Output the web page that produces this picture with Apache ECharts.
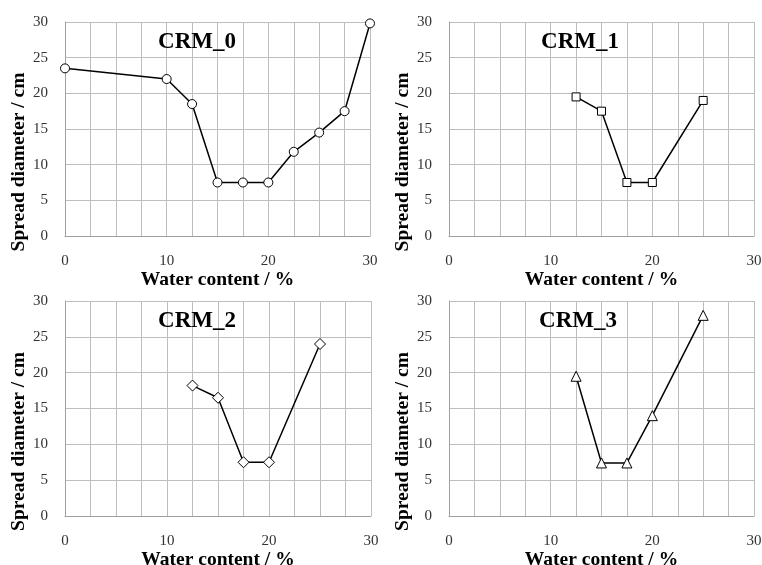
<!DOCTYPE html>
<html>
<head>
<meta charset="utf-8">
<script src="https://cdn.jsdelivr.net/npm/echarts@6/dist/echarts.min.js"></script>
<style>
html,body{margin:0;padding:0;background:#fff;}
#main{width:762px;height:565px;}
</style>
</head>
<body>
<div id="main"></div>
<script>
// Data
const panelNames = ['CRM_0', 'CRM_1', 'CRM_2', 'CRM_3'];
const xCRM0 = [0, 10, 12.5, 15, 17.5, 20, 22.5, 25, 27.5, 30];
const yCRM0 = [23.5, 22, 18.5, 7.5, 7.5, 7.5, 11.8, 14.5, 17.5, 29.8];
const xCRM1 = [12.5, 15, 17.5, 20, 25];
const yCRM1 = [19.5, 17.5, 7.5, 7.5, 19];
const xCRM2 = [12.5, 15, 17.5, 20, 25];
const yCRM2 = [18.2, 16.5, 7.5, 7.5, 24];
const xCRM3 = [12.5, 15, 17.5, 20, 25];
const yCRM3 = [19.5, 7.4, 7.4, 14, 28];
const xTickLabels = [0, 10, 20, 30];
const yTickLabels = [0, 5, 10, 15, 20, 25, 30];
const xTitle = 'Water content / %';
const yTitle = 'Spread diameter / cm';

const xs = [xCRM0, xCRM1, xCRM2, xCRM3];
const ys = [yCRM0, yCRM1, yCRM2, yCRM3];
const symbols = ['circle', 'rect', 'diamond', 'triangle'];
const symbolSizes = [9, 8, 11, 10];

const grids = [
  {left: 65, top: 22, width: 305, height: 214},
  {left: 449, top: 22, width: 305, height: 214},
  {left: 65, top: 301, width: 306, height: 215},
  {left: 449, top: 301, width: 305, height: 215}
];
const titlePos = [[197, 42], [580, 42], [197, 321], [578, 321]];

const FONT = '"Liberation Serif", "DejaVu Serif", serif';
const gridColor = '#bdbdbd';
const axisColor = '#a0a0a0';

const option = {
  backgroundColor: '#ffffff',
  animation: false,
  grid: grids.map(g => Object.assign({containLabel: false, outerBoundsMode: 'none'}, g)),
  xAxis: grids.map((g, i) => ({
    type: 'value', gridIndex: i, min: 0, max: 30, interval: 2.5,
    axisLine: {show: true, lineStyle: {color: axisColor, width: 1}},
    axisTick: {show: false},
    splitLine: {show: true, lineStyle: {color: gridColor, width: 1}},
    axisLabel: {
      margin: 18, fontFamily: FONT, fontSize: 15, color: '#333333',
      formatter: v => xTickLabels.indexOf(v) >= 0 ? String(v) : ''
    },
    name: xTitle, nameLocation: 'middle', nameGap: 21,
    nameTextStyle: {fontFamily: FONT, fontSize: 19.5, fontWeight: 'bold', color: '#000'}
  })),
  yAxis: grids.map((g, i) => ({
    type: 'value', gridIndex: i, min: 0, max: 30, interval: 5,
    axisLine: {show: true, lineStyle: {color: axisColor, width: 1}},
    axisTick: {show: false},
    splitLine: {show: true, lineStyle: {color: gridColor, width: 1}},
    axisLabel: {
      margin: 17, fontFamily: FONT, fontSize: 15, color: '#333333',
      formatter: v => yTickLabels.indexOf(v) >= 0 ? String(v) : ''
    },
    name: yTitle, nameLocation: 'middle', nameGap: 29, nameRotate: 90,
    nameTextStyle: {fontFamily: FONT, fontSize: 19.5, fontWeight: 'bold', color: '#000', padding: [0, 66, 0, 0]}
  })),
  series: xs.map((xArr, i) => ({
    type: 'line', xAxisIndex: i, yAxisIndex: i,
    data: xArr.map((x, j) => [x, ys[i][j]]),
    symbol: symbols[i], symbolSize: symbolSizes[i], showAllSymbol: true,
    lineStyle: {color: '#000', width: 1.5},
    itemStyle: {color: '#ffffff', borderColor: '#000', borderWidth: 1},
    z: 3
  })),
  graphic: panelNames.map((t, i) => ({
    type: 'text', x: titlePos[i][0], y: titlePos[i][1], z: 10,
    style: {text: t, align: 'center', verticalAlign: 'middle',
      font: 'bold 23px ' + FONT, fill: '#000'}
  }))
};

const chart = echarts.init(document.getElementById('main'), null, {renderer: 'canvas'});
chart.setOption(option);
</script>
</body>
</html>
